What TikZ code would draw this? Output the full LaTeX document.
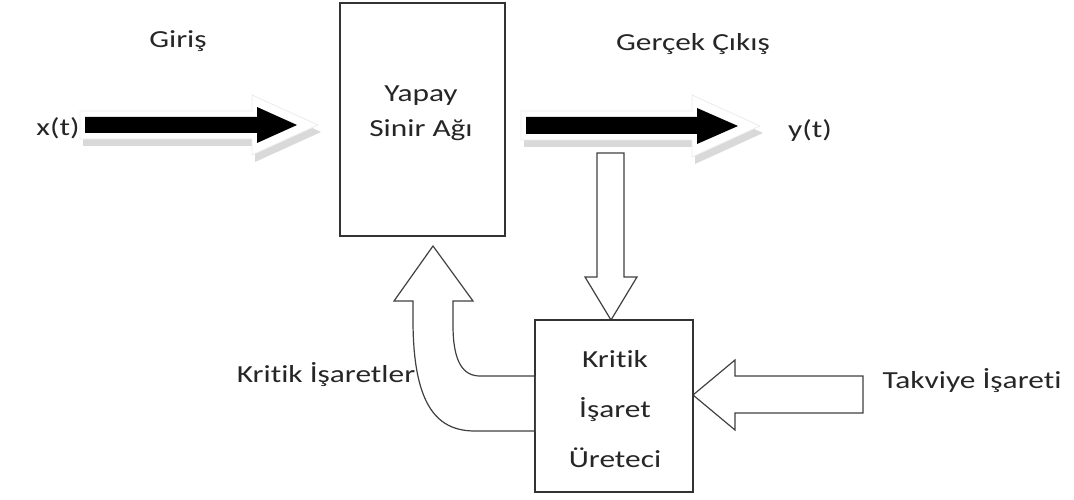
\documentclass[tikz,border=0pt]{standalone}
\usepackage{fontspec}
\setmainfont{Carlito}[FakeStretch=1.28, RawFeature={-liga}]
\usetikzlibrary{calc}
\begin{document}
\begin{tikzpicture}[x=1pt,y=-1pt,
  lbl/.style={font=\fontsize{24.5}{29}\selectfont, text=black!85, inner sep=0pt, anchor=base},
  box/.style={draw=black!80, line width=1.3pt, fill=white, inner sep=0pt},
  hollow/.style={draw=black!75, line width=1.2pt, fill=white, line join=miter},
  halo/.style={fill=white, draw=gray!15, line width=0.8pt},
  shade/.style={fill=gray!30},
  solid arrow/.style={fill=black}]
\useasboundingbox (0,0) rectangle (1074,500);

% blocks
\node[box, minimum width=165, minimum height=233] (ysa) at (422.5,119.5) {};
\node[box, minimum width=158, minimum height=172] (crit) at (614,406) {};

% text inside the blocks
\node[lbl] (ysa1) at (421,102) {Yapay};
\node[lbl] (ysa2) at (421,137) {Sinir Ağı};
\node[lbl] (crit1) at (615,367) {Kritik};
\node[lbl] (crit2) at (615,417) {İşaret};
\node[lbl] (crit3) at (615,467) {Üreteci};

% outer labels
\node[lbl] (giris) at (178,48) {Giriş};
\node[lbl] (xt) at (58,136) {x(t)};
\node[lbl] (cikis) at (693,51) {Gerçek Çıkış};
\node[lbl] (yt) at (810,138) {y(t)};
\node[lbl] (kritik) at (326,382) {Kritik İşaretler};
\node[lbl] (takviye) at (972,388) {Takviye İşareti};

% input arrow x(t) -> network
\begin{scope}[shift={(3,7)}]
  \path[shade] (80,111) -- (252,111) -- (252,95) -- (318,125) -- (252,155) -- (252,139) -- (80,139) -- cycle;
\end{scope}
\path[halo] (80,111) -- (252,111) -- (252,95) -- (318,125) -- (252,155) -- (252,139) -- (80,139) -- cycle;
\path[solid arrow] (85,117) -- (257,117) -- (257,107) -- (297,125) -- (257,143) -- (257,133) -- (85,133) -- cycle;

% output arrow network -> y(t)
\begin{scope}[shift={(3,7)}]
  \path[shade] (521,111) -- (692,111) -- (692,95) -- (760,126) -- (692,157) -- (692,140) -- (521,140) -- cycle;
\end{scope}
\path[halo] (521,111) -- (692,111) -- (692,95) -- (760,126) -- (692,157) -- (692,140) -- (521,140) -- cycle;
\path[solid arrow] (526,117) -- (697,117) -- (697,108) -- (738,126) -- (697,144) -- (697,134) -- (526,134) -- cycle;

% output sample -> critic
\draw[hollow] (597,153) -- (624,153) -- (624,277) -- (637,277) -- (611,320) -- (585,277) -- (597,277) -- cycle;

% reinforcement signal -> critic
\draw[hollow] (863,376) -- (735,376) -- (735,360) -- (693,395) -- (735,430) -- (735,413) -- (863,413) -- cycle;

% critic signals -> network (bent arrow)
\draw[hollow] (433,246) -- (473,301) -- (453,301) -- (453,325)
  .. controls (453,362) and (463,376) .. (480,376) -- (535,376)
  -- (535,431) -- (475,431)
  .. controls (440,431) and (413,410) .. (413,320) -- (413,301) -- (394,301) -- cycle;
\draw[box, fill=none] (crit.south west) rectangle (crit.north east);
\end{tikzpicture}
\end{document}
